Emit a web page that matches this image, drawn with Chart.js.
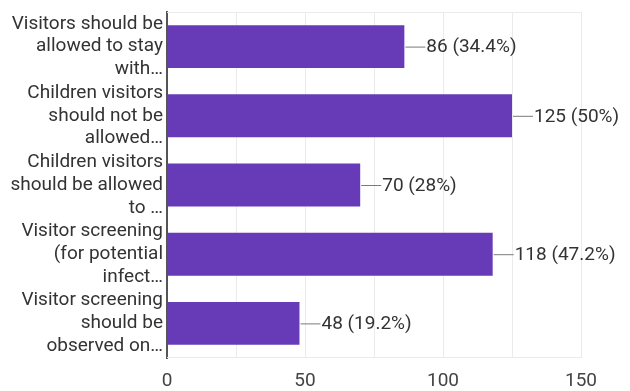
<!DOCTYPE html>
<html><head><meta charset="utf-8">
<script src="https://cdn.jsdelivr.net/npm/chart.js@4"></script>
<style>html,body{margin:0;padding:0;background:#fff}#wrap{width:630px;height:391px}</style>
</head><body><div id="wrap"><canvas id="c" width="630" height="391"></canvas></div>
<script>
const categories = [
  ["Visitors should be", "allowed to stay", "with…"],
  ["Children visitors", "should not be", "allowed…"],
  ["Children visitors", "should be allowed", "to …"],
  ["Visitor screening", "(for potential", "infect…"],
  ["Visitor screening", "should be", "observed on…"]
];
const counts = [86, 125, 70, 118, 48];
const percents = ["34.4%", "50%", "28%", "47.2%", "19.2%"];
const xTicks = [0, 50, 100, 150];

const FONT = "Roboto";
const labelPlugin = {
  id: 'valLabels',
  afterDatasetsDraw(chart) {
    const ctx = chart.ctx;
    const meta = chart.getDatasetMeta(0);
    ctx.save();
    ctx.font = "19px " + FONT;
    ctx.textBaseline = "middle";
    ctx.textAlign = "left";
    meta.data.forEach((bar, i) => {
      const x = bar.x, y = bar.y;
      ctx.strokeStyle = "#7a7a7a";
      ctx.lineWidth = 1;
      ctx.beginPath();
      ctx.moveTo(x + 1, y + 0.5);
      ctx.lineTo(x + 21, y + 0.5);
      ctx.stroke();
      ctx.fillStyle = "#333333";
      ctx.fillText(counts[i] + " (" + percents[i] + ")", x + 22, y + 1);
    });
    ctx.restore();
  }
};
const framePlugin = {
  id: 'frame',
  beforeDatasetsDraw(chart) {
    const a = chart.chartArea, ctx = chart.ctx;
    ctx.save();
    ctx.strokeStyle = "#ebebeb";
    ctx.lineWidth = 1;
    ctx.beginPath();
    ctx.moveTo(a.left, a.top + 0.5); ctx.lineTo(a.right, a.top + 0.5);
    ctx.moveTo(a.left, a.bottom - 0.5); ctx.lineTo(a.right, a.bottom - 0.5);
    ctx.stroke();
    ctx.restore();
  }
};

new Chart(document.getElementById('c'), {
  type: 'bar',
  data: {
    labels: categories,
    datasets: [{ data: counts, backgroundColor: "#673ab7", borderWidth: 0,
      barPercentage: 0.62, categoryPercentage: 1 }]
  },
  options: {
    indexAxis: 'y',
    responsive: false,
    animation: false,
    layout: { padding: { top: 12, right: 49, left: 0, bottom: 0 } },
    plugins: { legend: { display: false }, tooltip: { enabled: false } },
    scales: {
      x: {
        min: 0, max: 150,
        afterBuildTicks(scale) { scale.ticks = [0,25,50,75,100,125,150].map(v => ({ value: v })); },
        ticks: {
          callback: v => xTicks.includes(v) ? String(v) : '',
          font: { family: FONT, size: 19 }, color: "#444444", padding: 12, maxRotation: 0
        },
        grid: { color: "#ebebeb", drawTicks: false },
        border: { display: false },
        afterFit(scale) { scale.height = 33; scale.paddingLeft = 0; scale.paddingRight = 0; }
      },
      y: {
        ticks: { font: { family: FONT, size: 19, lineHeight: 1.2 }, color: "#333333", padding: -4, autoSkip: false },
        grid: { display: false },
        border: { color: "#555555", width: 2 },
        afterFit(scale) { scale.width = 167; scale.paddingTop = 0; scale.paddingBottom = 0; }
      }
    }
  },
  plugins: [labelPlugin, framePlugin]
});
</script></body></html>
